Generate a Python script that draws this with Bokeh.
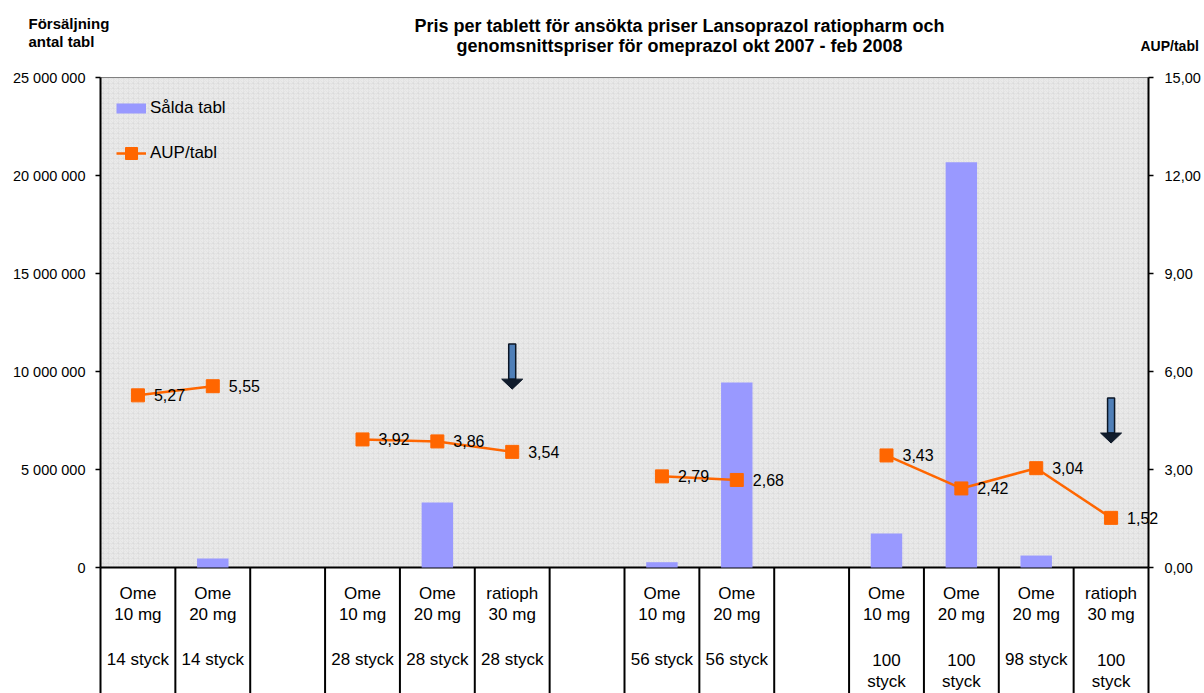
import math
from bokeh.plotting import figure
from bokeh.models import (Range1d, LinearAxis, FixedTicker, Legend, LegendItem, ColumnDataSource)
from bokeh.core.properties import value
from bokeh.embed import file_html
from bokeh.resources import INLINE

nan = float("nan")

# ---------------- data ----------------
row1 = ["Ome", "Ome", "", "Ome", "Ome", "ratioph", "", "Ome", "Ome", "", "Ome", "Ome", "Ome", "ratioph"]
row2 = ["10 mg", "20 mg", "", "10 mg", "20 mg", "30 mg", "", "10 mg", "20 mg", "", "10 mg", "20 mg", "20 mg", "30 mg"]
row3 = ["14 styck", "14 styck", "", "28 styck", "28 styck", "28 styck", "", "56 styck", "56 styck", "",
        "100", "100", "98 styck", "100"]
row4 = ["", "", "", "", "", "", "", "", "", "", "styck", "styck", "", "styck"]

sold_tabl = [0, 460000, nan, 0, 3320000, 0, nan, 270000, 9440000, nan, 1730000, 20680000, 610000, 0]
aup_tabl = [5.27, 5.55, nan, 3.92, 3.86, 3.54, nan, 2.79, 2.68, nan, 3.43, 2.42, 3.04, 1.52]

left_ticks = [0, 5000000, 10000000, 15000000, 20000000, 25000000]
left_tick_labels = ["0", "5 000 000", "10 000 000", "15 000 000", "20 000 000", "25 000 000"]
right_ticks = [0, 3, 6, 9, 12, 15]
right_tick_labels = ["0,00", "3,00", "6,00", "9,00", "12,00", "15,00"]

title_lines = ["Pris per tablett för ansökta priser Lansoprazol ratiopharm och",
               "genomsnittspriser för omeprazol okt 2007 - feb 2008"]
left_title = ["Försäljning", "antal tabl"]
right_title = "AUP/tabl"

# arrows (slot index, top value, tip value on left axis)
arrow_slot = [5, 13]
arrow_top = [11400000, 8650000]
arrow_tip = [9100000, 6350000]

# ---------------- layout (page pixels) ----------------
W, H = 1204, 693
X0, X1 = 100, 1148      # plot area left/right
Y_ZERO, Y_TOP = 567, 77  # zero line and top of plot area
LMAX, RMAX = 25e6, 15.0
nslots = len(row1)
slot_px = (X1 - X0) / nslots
upp = LMAX / (Y_ZERO - Y_TOP)
rupp = RMAX / (Y_ZERO - Y_TOP)

def dx(page_x):
    return (page_x - X0) / slot_px

def dy(page_y):
    return (Y_ZERO - page_y) * upp

FONT = "Liberation Sans"

p = figure(width=W, height=H, output_backend="svg", toolbar_location=None,
           x_range=Range1d(dx(0), dx(W)), y_range=Range1d(dy(H), dy(0)),
           x_axis_type=None, y_axis_type=None,
           min_border_left=0, min_border_right=0, min_border_top=0, min_border_bottom=0)
p.extra_y_ranges = {"right": Range1d((Y_ZERO - H) * rupp, Y_ZERO * rupp)}
p.outline_line_color = None
p.xgrid.visible = False
p.ygrid.visible = False
p.background_fill_color = "white"
p.border_fill_color = "white"

# plot area background
p.quad(left=[0], right=[nslots], bottom=[0], top=[LMAX], fill_color="#eaeaea",
       line_color=None, hatch_pattern="*", hatch_color="#d0d0d0", hatch_alpha=0.25, hatch_scale=5)
p.line([0, nslots], [LMAX, LMAX], line_color="#808080", line_width=1)

# axes (drawn at fixed data positions)
la = LinearAxis(ticker=FixedTicker(ticks=left_ticks), bounds=(0, LMAX), fixed_location=0)
la.major_label_overrides = {t: s for t, s in zip(left_ticks, left_tick_labels)}
ra = LinearAxis(ticker=FixedTicker(ticks=right_ticks), bounds=(0, RMAX), y_range_name="right",
                fixed_location=nslots)
ra.major_label_overrides = {t: s for t, s in zip(right_ticks, right_tick_labels)}
for ax in (la, ra):
    ax.axis_line_width = 2
    ax.axis_line_color = "black"
    ax.major_tick_in = 0
    ax.major_tick_out = 5
    ax.major_tick_line_width = 1.5
    ax.minor_tick_line_color = None
    ax.major_label_text_font = FONT
    ax.major_label_text_font_size = "14.5px"
    ax.major_label_text_color = "black"
la.major_label_standoff = 10
ra.major_label_standoff = 11
p.add_layout(la, "left")
p.add_layout(ra, "right")

# zero line
p.line([0, nslots], [0, 0], line_color="black", line_width=2)

# table separators below the plot area
bx = list(range(nslots + 1))
p.segment(x0=bx, x1=bx, y0=[0] * len(bx), y1=[dy(H)] * len(bx), line_color="black", line_width=2)

centers = [i + 0.5 for i in range(nslots)]

# bars
bar_src = ColumnDataSource(dict(x=[c for c, v in zip(centers, sold_tabl) if not math.isnan(v)],
                                top=[v for v in sold_tabl if not math.isnan(v)]))
p.vbar(x="x", top="top", bottom=0, width=0.42, source=bar_src, fill_color="#9999FF", line_color=None)

# line + markers
lr = p.line(centers, aup_tabl, y_range_name="right", line_color="#FF6600", line_width=2.5)
mx = [c for c, v in zip(centers, aup_tabl) if not math.isnan(v)]
my = [v for v in aup_tabl if not math.isnan(v)]
sr = p.scatter(mx, my, y_range_name="right", marker="square", size=13,
               fill_color="#FF6600", line_color="#FF6600")
p.text(mx, my, text=[f"{v:.2f}".replace(".", ",") for v in my], y_range_name="right",
       x_offset=16, text_align="left", text_baseline="middle", text_font=value(FONT),
       text_font_size="16px", text_color="black")

# arrows
sh = 3.5 / slot_px
hw = 10.5 / slot_px
hh = 10 * upp
p.quad(left=[s + 0.5 - sh for s in arrow_slot], right=[s + 0.5 + sh for s in arrow_slot],
       top=arrow_top, bottom=[t + hh for t in arrow_tip],
       fill_color="#4F7FB8", line_color="#0b1626", line_width=1.5)
p.patches(xs=[[s + 0.5 - hw, s + 0.5 + hw, s + 0.5] for s in arrow_slot],
          ys=[[t + hh, t + hh, t] for t in arrow_tip],
          fill_color="#101c2c", line_color="#0b1626", line_width=1)

# category labels in the table
for row, yy in ((row1, 593), (row2, 614), (row3, 659), (row4, 681)):
    p.text(centers, [dy(yy)] * nslots, text=row, text_align="center", text_baseline="middle",
           text_font=value(FONT), text_font_size="17px", text_color="black")

# titles
p.text([dx(679)] * 2, [dy(25), dy(45)], text=title_lines, text_align="center", text_baseline="middle",
       text_font=value(FONT), text_font_size="18px", text_font_style="bold", text_color="black")
p.text([dx(28)] * 2, [dy(23), dy(41)], text=left_title, text_align="left", text_baseline="middle",
       text_font=value(FONT), text_font_size="15px", text_font_style="bold", text_color="black")
p.text([dx(1140)], [dy(45)], text=[right_title], text_align="left", text_baseline="middle",
       text_font=value(FONT), text_font_size="14px", text_font_style="bold", text_color="black")

# legend
sw = p.line([nan], [nan], line_color="#9999FF", line_width=10)
legend = Legend(items=[LegendItem(label="Sålda tabl", renderers=[sw]),
                       LegendItem(label="AUP/tabl", renderers=[lr, sr])],
                location=(116, H - 168), padding=0, margin=0, spacing=15,
                glyph_width=30, glyph_height=30, label_height=30, label_standoff=4,
                label_text_font=FONT, label_text_font_size="17px", label_text_color="black",
                background_fill_alpha=0, border_line_color=None)
p.add_layout(legend)

open("out.html", "w").write(file_html(p, INLINE))
